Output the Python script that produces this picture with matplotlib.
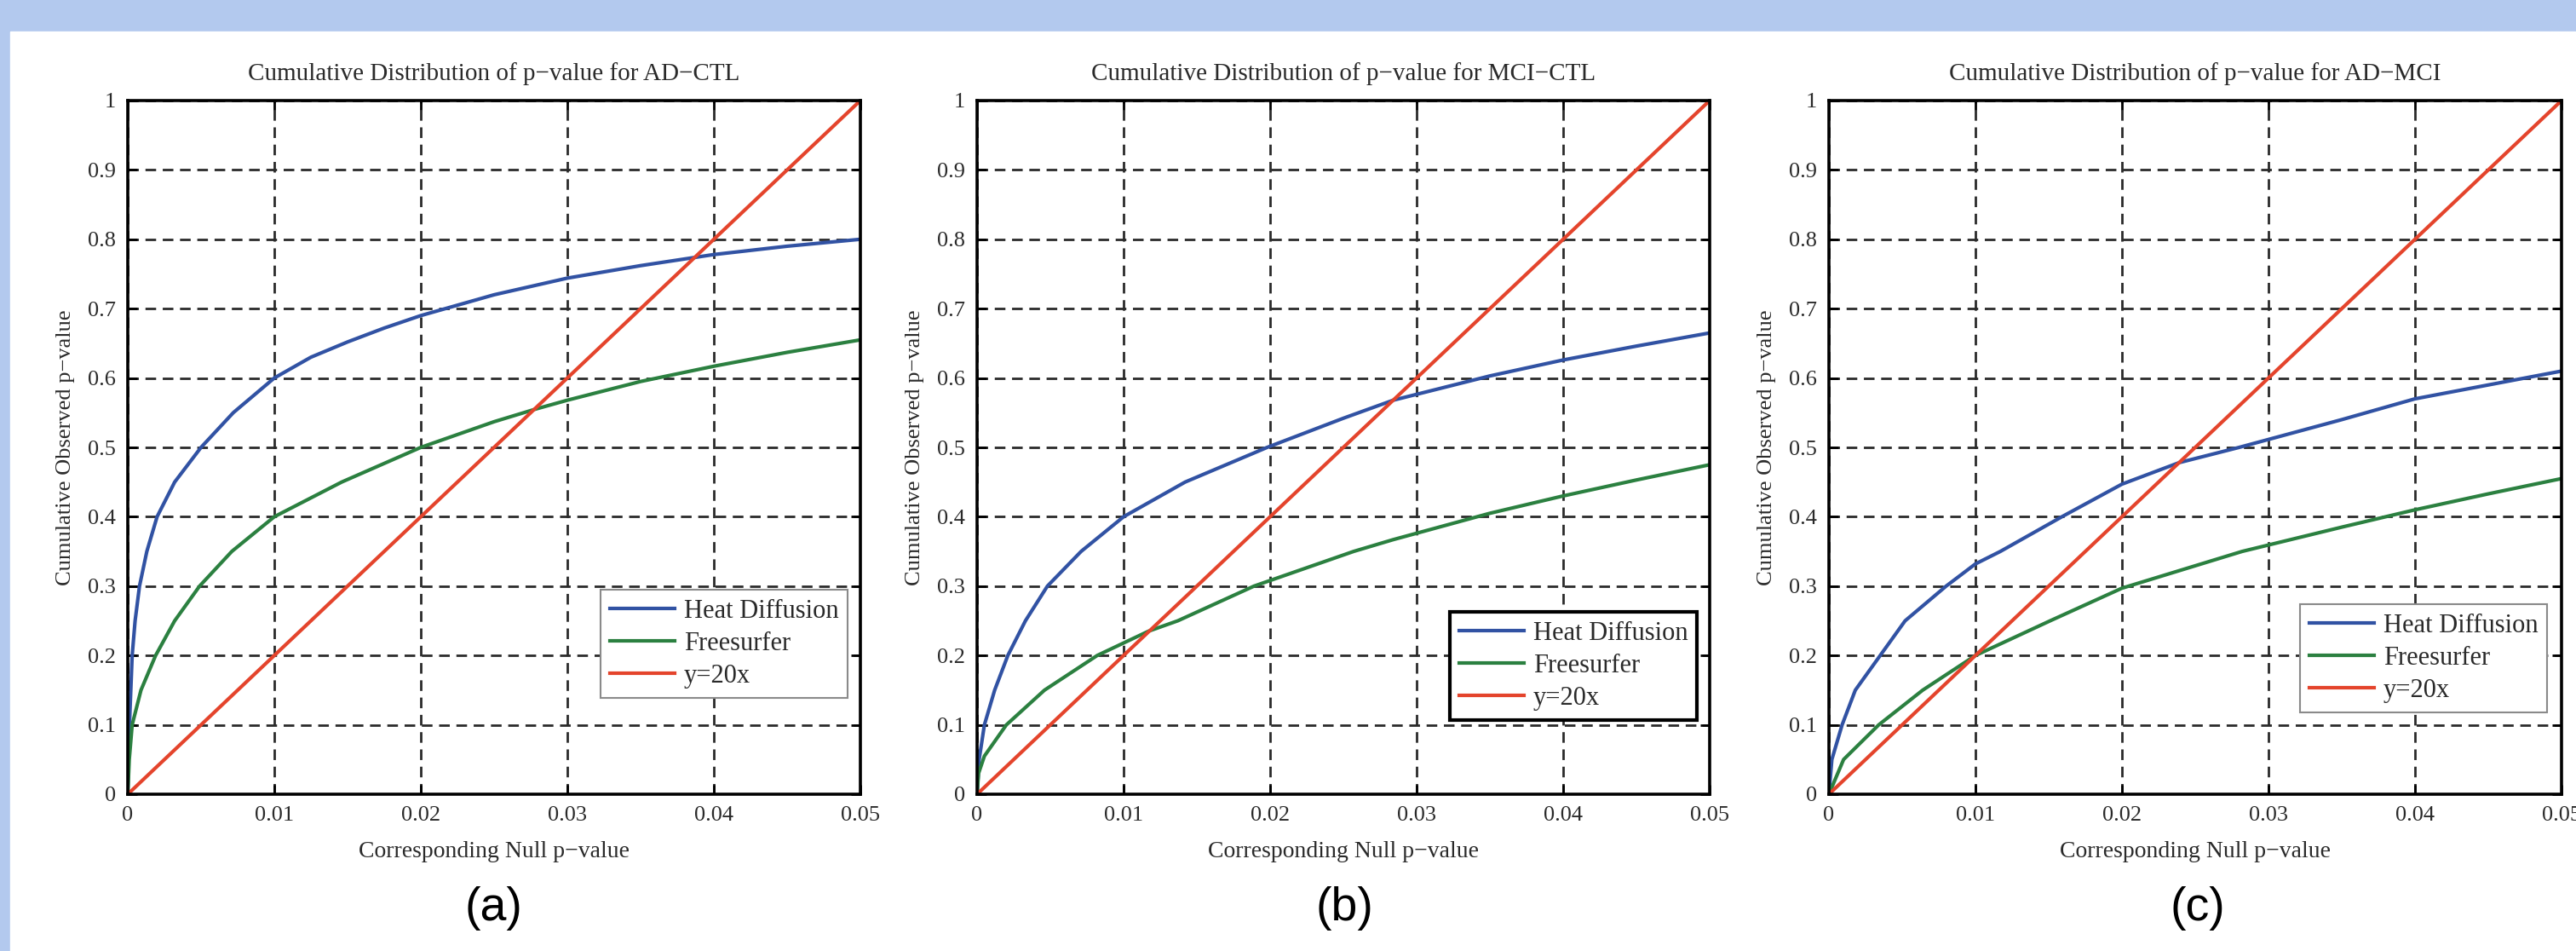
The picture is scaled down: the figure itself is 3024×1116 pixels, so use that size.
import numpy as np
import matplotlib.pyplot as plt
from matplotlib.patches import Rectangle

# Panel titles and sub-figure tags
titles = ['Cumulative Distribution of p\u2212value for AD\u2212CTL',
          'Cumulative Distribution of p\u2212value for MCI\u2212CTL',
          'Cumulative Distribution of p\u2212value for AD\u2212MCI']
tags = ['(a)', '(b)', '(c)']
series_names = ['Heat Diffusion', 'Freesurfer', 'y=20x']

# Tick values / labels
xticks = [0, 0.01, 0.02, 0.03, 0.04, 0.05]
xticklabels = ['0', '0.01', '0.02', '0.03', '0.04', '0.05']
yticks = [0, 0.1, 0.2, 0.3, 0.4, 0.5, 0.6, 0.7, 0.8, 0.9, 1.0]
yticklabels = ['0', '0.1', '0.2', '0.3', '0.4', '0.5', '0.6', '0.7', '0.8', '0.9', '1']

# Reference line y = 20x
ref_x = [0, 0.05]
ref_y = [0, 1.0]

# (a) AD-CTL
heat_a_x = [0, 0.00005, 0.00015, 0.0003, 0.0005, 0.0008, 0.0013, 0.002, 0.0032,
            0.005, 0.0072, 0.01, 0.0125, 0.015, 0.0175, 0.02, 0.025, 0.03,
            0.035, 0.04, 0.045, 0.05]
heat_a_y = [0, 0.06, 0.12, 0.2, 0.25, 0.3, 0.35, 0.4, 0.45,
            0.5, 0.55, 0.6, 0.63, 0.652, 0.672, 0.69, 0.72, 0.744,
            0.762, 0.778, 0.79, 0.80]
free_a_x = [0, 0.0001, 0.0003, 0.0009, 0.0019, 0.0032, 0.0049, 0.0071, 0.01,
            0.0146, 0.02, 0.025, 0.0278, 0.03, 0.035, 0.04, 0.045, 0.05]
free_a_y = [0, 0.05, 0.1, 0.15, 0.2, 0.25, 0.3, 0.35, 0.4,
            0.45, 0.5, 0.537, 0.555, 0.568, 0.595, 0.617, 0.637, 0.655]

# (b) MCI-CTL
heat_b_x = [0, 0.00014, 0.0005, 0.0012, 0.0021, 0.0033, 0.0048, 0.0071, 0.01,
            0.0142, 0.0198, 0.025, 0.0284, 0.035, 0.04, 0.045, 0.05]
heat_b_y = [0, 0.05, 0.1, 0.15, 0.2, 0.25, 0.3, 0.35, 0.4,
            0.45, 0.5, 0.542, 0.568, 0.603, 0.626, 0.646, 0.665]
free_b_x = [0, 0.0001, 0.0005, 0.002, 0.0046, 0.0082, 0.0117, 0.0137, 0.0189,
            0.0257, 0.0284, 0.035, 0.04, 0.045, 0.05]
free_b_y = [0, 0.03, 0.055, 0.1, 0.15, 0.2, 0.235, 0.25, 0.3,
            0.35, 0.367, 0.405, 0.43, 0.453, 0.475]

# (c) AD-MCI
heat_c_x = [0, 0.0002, 0.0009, 0.0018, 0.0035, 0.0052, 0.008, 0.01, 0.0117,
            0.0159, 0.02, 0.0239, 0.028, 0.035, 0.04, 0.045, 0.05]
heat_c_y = [0, 0.05, 0.1, 0.15, 0.2, 0.25, 0.3, 0.332, 0.35,
            0.4, 0.447, 0.478, 0.5, 0.54, 0.57, 0.59, 0.61]
free_c_x = [0, 0.001, 0.0034, 0.0064, 0.01, 0.0151, 0.02, 0.0282, 0.035,
            0.04, 0.045, 0.05]
free_c_y = [0, 0.05, 0.1, 0.15, 0.2, 0.25, 0.297, 0.35, 0.385,
            0.41, 0.433, 0.455]

heat = [(heat_a_x, heat_a_y), (heat_b_x, heat_b_y), (heat_c_x, heat_c_y)]
free = [(free_a_x, free_a_y), (free_b_x, free_b_y), (free_c_x, free_c_y)]

W, H = 3024, 1116
serif = ['Liberation Serif', 'DejaVu Serif']
txt_col = '#2a2a2a'

fig = plt.figure(figsize=(W / 100, H / 100), dpi=100, facecolor='#b3c9ee')
# white slide panel behind the plots
fig.patches.append(Rectangle((12 / W, 0), 1 - 12 / W, (H - 37) / H,
                             transform=fig.transFigure, color='white', zorder=-10))

lefts = [150, 1147, 2147]
ax_w, top, bot = 860, 118, 932
leg_boxes = [(705, 692), (1702, 718), (2700, 709)]
leg_edges = [('#8a8a8a', 1.5), ('black', 3.0), ('#8a8a8a', 1.5)]
tag_x = [579, 1578, 2580]

colors = ['#3152a3', '#2b8040', '#e4442c']

for i in range(3):
    ax = fig.add_axes([lefts[i] / W, (H - bot) / H, ax_w / W, (bot - top) / H])
    ax.set_zorder(1)
    ax.plot(heat[i][0], heat[i][1], color=colors[0], lw=3.0, label=series_names[0],
            solid_joinstyle='round')
    ax.plot(free[i][0], free[i][1], color=colors[1], lw=3.0, label=series_names[1],
            solid_joinstyle='round')
    ax.plot(ref_x, ref_y, color=colors[2], lw=3.0, label=series_names[2])
    ax.set_xlim(0, 0.05)
    ax.set_ylim(0, 1)
    ax.set_xticks(xticks)
    ax.set_xticklabels(xticklabels, family=serif)
    ax.set_yticks(yticks)
    ax.set_yticklabels(yticklabels, family=serif)
    ax.tick_params(direction='in', top=True, right=True, length=8, width=2,
                   labelsize=19, pad=10, colors='black', labelcolor=txt_col)
    ax.grid(True, linestyle=(0, (4.5, 2.8)), color='#2a2a2a', linewidth=2.0)
    for s in ax.spines.values():
        s.set_linewidth(2.6)
    ax.text(0.5, (bot - 87) / (bot - top), titles[i], transform=ax.transAxes,
            ha='center', va='center', fontsize=21, family=serif, color=txt_col)
    ax.set_xlabel('Corresponding Null p\u2212value', fontsize=20, family=serif,
                  color=txt_col, va='center')
    ax.xaxis.set_label_coords(0.5, -(999 - bot) / (bot - top))
    ax.set_ylabel('Cumulative Observed p\u2212value', fontsize=19, family=serif,
                  color=txt_col, va='center')
    ax.yaxis.set_label_coords(-73 / ax_w, 0.5)

    lx, ly = leg_boxes[i]
    leg = ax.legend(loc='upper left', bbox_to_anchor=(lx / W, 1 - ly / H),
                    bbox_transform=fig.transFigure, borderaxespad=0,
                    prop={'family': serif, 'size': 22}, handlelength=2.5,
                    handletextpad=0.35, labelspacing=0.3, borderpad=0.35,
                    fancybox=False, framealpha=1)
    leg.get_frame().set_edgecolor(leg_edges[i][0])
    leg.get_frame().set_linewidth(leg_edges[i][1])
    for t in leg.get_texts():
        t.set_color(txt_col)

    fig.text(tag_x[i] / W, 1 - 1066 / H, tags[i], ha='center', va='center',
             fontsize=40, family=['Liberation Sans', 'DejaVu Sans'], color='black')

fig.savefig('out.png', dpi=100, facecolor=fig.get_facecolor())
